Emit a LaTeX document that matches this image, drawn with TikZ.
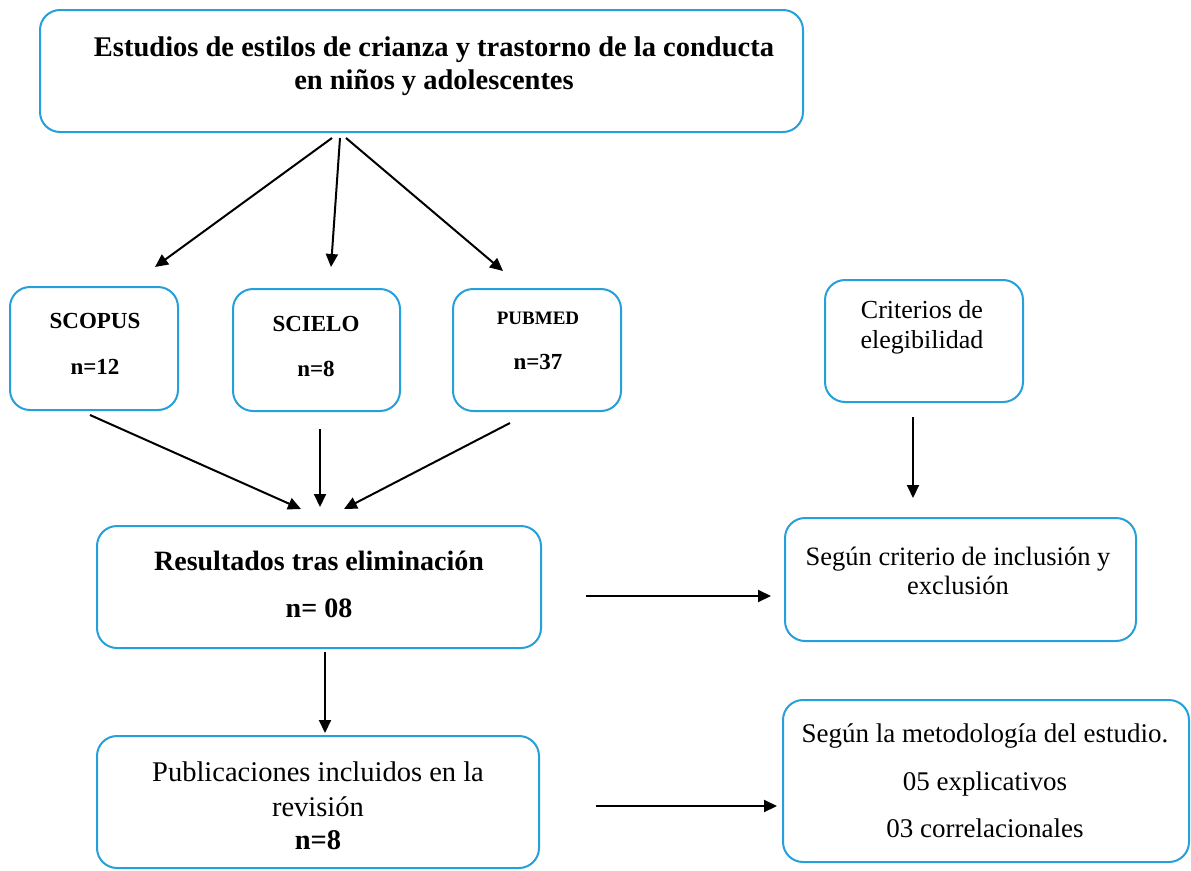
\documentclass[tikz,border=0pt]{standalone}
\usepackage{fontspec}
\setmainfont{Liberation Serif}
\usetikzlibrary{arrows.meta}
\definecolor{boxblue}{RGB}{38,160,218}
\tikzset{
  box/.style={draw=boxblue, line width=2pt, rounded corners=20pt, inner sep=0pt},
  arr/.style={draw=black, line width=2pt, -{Triangle[length=13pt,width=12pt]}},
  ln/.style={anchor=base, inner sep=0pt, font=\fontsize{#1}{#1}\selectfont},
  lnb/.style={anchor=base, inner sep=0pt, font=\fontsize{#1}{#1}\selectfont\bfseries},
}
\begin{document}
\begin{tikzpicture}[x=1pt,y=-1pt]
\useasboundingbox (0,0) rectangle (1191,870);
% boxes
\node[box, minimum width=763pt, minimum height=122pt] (title)  at (421.5,71) {};
\node[box, minimum width=168pt, minimum height=123pt] (scopus) at (94,348.5) {};
\node[box, minimum width=167pt, minimum height=122pt] (scielo) at (316.5,350) {};
\node[box, minimum width=168pt, minimum height=122pt] (pubmed) at (537,350) {};
\node[box, minimum width=198pt, minimum height=122pt] (crit)   at (924,341) {};
\node[box, minimum width=444pt, minimum height=122pt] (res)    at (319,587) {};
\node[box, minimum width=351pt, minimum height=123pt] (incl)   at (960.5,579.5) {};
\node[box, minimum width=442pt, minimum height=132pt] (pub)    at (318,802) {};
\node[box, minimum width=406pt, minimum height=162pt] (metod)  at (986,781) {};
% texts
\node[lnb=28.5] (t1a) at (434,56) {Estudios de estilos de crianza y trastorno de la conducta};
\node[lnb=28.5] (t1b) at (434,89) {en niños y adolescentes};
\node[lnb=23] (t2a) at (95,328) {SCOPUS};
\node[lnb=23] (t2b) at (95,374) {n=12};
\node[lnb=23] (t3a) at (316,331) {SCIELO};
\node[lnb=23] (t3b) at (316,376) {n=8};
\node[lnb=19] (t4a) at (538,324) {PUBMED};
\node[lnb=23] (t4b) at (538,369) {n=37};
\node[ln=26] (t5a) at (922,318) {Criterios de};
\node[ln=26] (t5b) at (922,348) {elegibilidad};
\node[lnb=28] (t6a) at (319,570) {Resultados tras eliminación};
\node[lnb=28] (t6b) at (319,617) {n= 08};
\node[ln=26.5] (t7a) at (958,565) {Según criterio de inclusión y};
\node[ln=26.5] (t7b) at (958,594) {exclusión};
\node[ln=28.5] (t8a) at (318,781) {Publicaciones incluidos en la};
\node[ln=28.5] (t8b) at (318,816) {revisión};
\node[lnb=28.5] (t8c) at (318,849) {n=8};
\node[ln=27] (t9a) at (985,742) {Según la metodología del estudio.};
\node[ln=27] (t9b) at (985,790) {05 explicativos};
\node[ln=27] (t9c) at (985,837) {03 correlacionales};
% connectors (they stop short of the boxes, as in the reference)
\draw[arr] ([xshift=-89.5pt,yshift=-5pt]title.south) -- ([xshift=61pt,yshift=19pt]scopus.north);
\draw[arr] ([xshift=-81.5pt,yshift=-5pt]title.south) -- ([xshift=14.5pt,yshift=21pt]scielo.north);
\draw[arr] ([xshift=-75.5pt,yshift=-5pt]title.south) -- ([xshift=-34pt,yshift=17pt]pubmed.north);
\draw[arr] ([xshift=-4pt,yshift=-4pt]scopus.south) -- ([xshift=-18pt,yshift=16pt]res.north);
\draw[arr] ([xshift=3.5pt,yshift=-17pt]scielo.south) -- ([xshift=1pt,yshift=18pt]res.north);
\draw[arr] ([xshift=-27pt,yshift=-11pt]pubmed.south) -- ([xshift=25pt,yshift=16pt]res.north);
\draw[arr] ([xshift=-11pt,yshift=-14pt]crit.south) -- ([xshift=-47.5pt,yshift=19pt]incl.north);
\draw[arr] ([xshift=44pt,yshift=-9pt]res.east) -- ([xshift=-13pt,yshift=-16.5pt]incl.west);
\draw[arr] ([xshift=6pt,yshift=-3pt]res.south) -- ([xshift=7pt,yshift=2pt]pub.north);
\draw[arr] ([xshift=56pt,yshift=-4pt]pub.east) -- ([xshift=-5pt,yshift=-25pt]metod.west);
\end{tikzpicture}
\end{document}
